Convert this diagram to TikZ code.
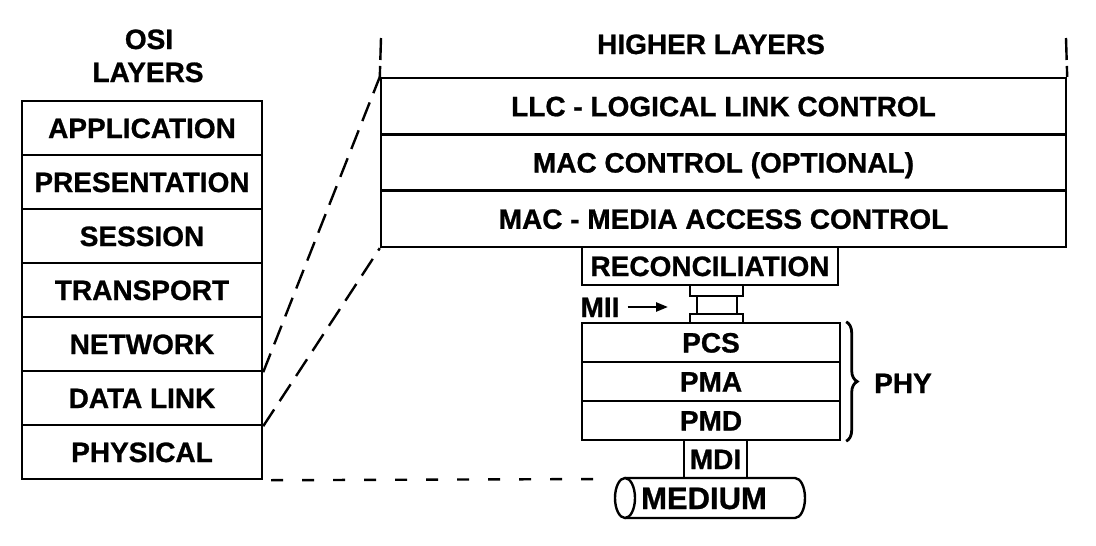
\documentclass[tikz,border=0pt]{standalone}
\usepackage{fontspec}
\setmainfont{Liberation Sans}[BoldFeatures={FakeBold=0.9}]
\usetikzlibrary{decorations.pathreplacing,arrows.meta}
\begin{document}
\begin{tikzpicture}[x=1pt,y=-1pt,
  lw/.style={line width=2.4pt},
  lbl/.style={font=\fontsize{28}{30}\selectfont\bfseries, inner sep=0pt, text height=20pt, text depth=0pt},
  layerbox/.style={lbl, draw, lw, minimum width=240, minimum height=54},
  upbox/.style={lbl, draw, lw, minimum width=685, minimum height=56.3},
  phybox/.style={lbl, draw, lw, minimum width=258, minimum height=39},
  plainbox/.style={draw, lw, inner sep=0pt},
  longdash/.style={lw, dash pattern=on 20pt off 10pt},
  shortdash/.style={lw, dash pattern=on 12pt off 19pt}
]
\useasboundingbox (0,0) rectangle (1096,546);

% OSI stack
\node[lbl] (osi) at (149,39) {OSI};
\node[lbl] (osilayers) at (148,72) {LAYERS};
\node[layerbox] (app)  at (142,128) {APPLICATION};
\node[layerbox] (pres) at (142,182) {PRESENTATION};
\node[layerbox] (sess) at (142,236) {SESSION};
\node[layerbox] (trans) at (142,290) {TRANSPORT};
\node[layerbox] (net)  at (142,344) {NETWORK};
\node[layerbox] (dl)   at (142,398) {DATA LINK};
\node[layerbox] (phys) at (142,452) {PHYSICAL};

% Higher layers
\node[lbl] (higher) at (711,44) {HIGHER LAYERS};
\node[upbox] (llc)  at (723.5,106.2) {LLC - LOGICAL LINK CONTROL};
\node[upbox] (macc) at (723.5,162.5) {MAC CONTROL (OPTIONAL)};
\node[upbox] (mac)  at (723.5,218.8) {MAC - MEDIA ACCESS CONTROL};
\coordinate (hlt) at (381,38);
\coordinate (hrt) at (1066,38);
\draw[lw, dash pattern=on 22pt off 6pt] (hlt) -- (llc.north west);
\draw[lw, dash pattern=on 22pt off 6pt] (hrt) -- (llc.north east);

% Reconciliation and MII
\node[lbl, draw, lw, minimum width=256, minimum height=38] (rec) at (710,266) {RECONCILIATION};
\node[plainbox, minimum width=53, minimum height=11] (miitop) at (716.5,290.5) {};
\node[plainbox, minimum width=40, minimum height=18] (miimid) at (717,305) {};
\node[plainbox, minimum width=53, minimum height=9] (miibot) at (716.5,318.5) {};
\node[lbl] (mii) at (600,307) {MII};
\coordinate (miiend) at (668,307);
\draw[lw, -{Triangle[length=12pt,width=9pt]}] ([xshift=8pt]mii.east) -- (miiend);

% PHY
\node[phybox] (pcs) at (711,342.5) {PCS};
\node[phybox] (pma) at (711,381.5) {PMA};
\node[phybox] (pmd) at (711,420.5) {PMD};
\draw[line width=2.8pt, decorate, decoration={brace, amplitude=11pt, aspect=0.5}]
  ([xshift=5pt]pcs.north east) -- ([xshift=5pt]pmd.south east);
\node[lbl] (phy) at (903,383) {PHY};

% MDI and medium
\node[lbl, draw, lw, minimum width=63, minimum height=38] (mdi) at (715.5,459) {MDI};
\draw[lw] (625,478) -- (795,478) arc[start angle=-90, end angle=90, x radius=10, y radius=20] -- (625,518);
\draw[lw] (625,498) ellipse[x radius=10, y radius=20];
\node[lbl, font=\fontsize{31}{33}\selectfont\bfseries, text height=22pt] (medium) at (704,498) {MEDIUM};
\coordinate (medl) at (606,479);

% Dashed mapping lines
\draw[longdash] (net.south east) -- (llc.north west);
\draw[longdash] (dl.south east) -- (mac.south west);
\draw[shortdash] ([xshift=8pt]phys.south east) -- (medl);
\end{tikzpicture}
\end{document}
